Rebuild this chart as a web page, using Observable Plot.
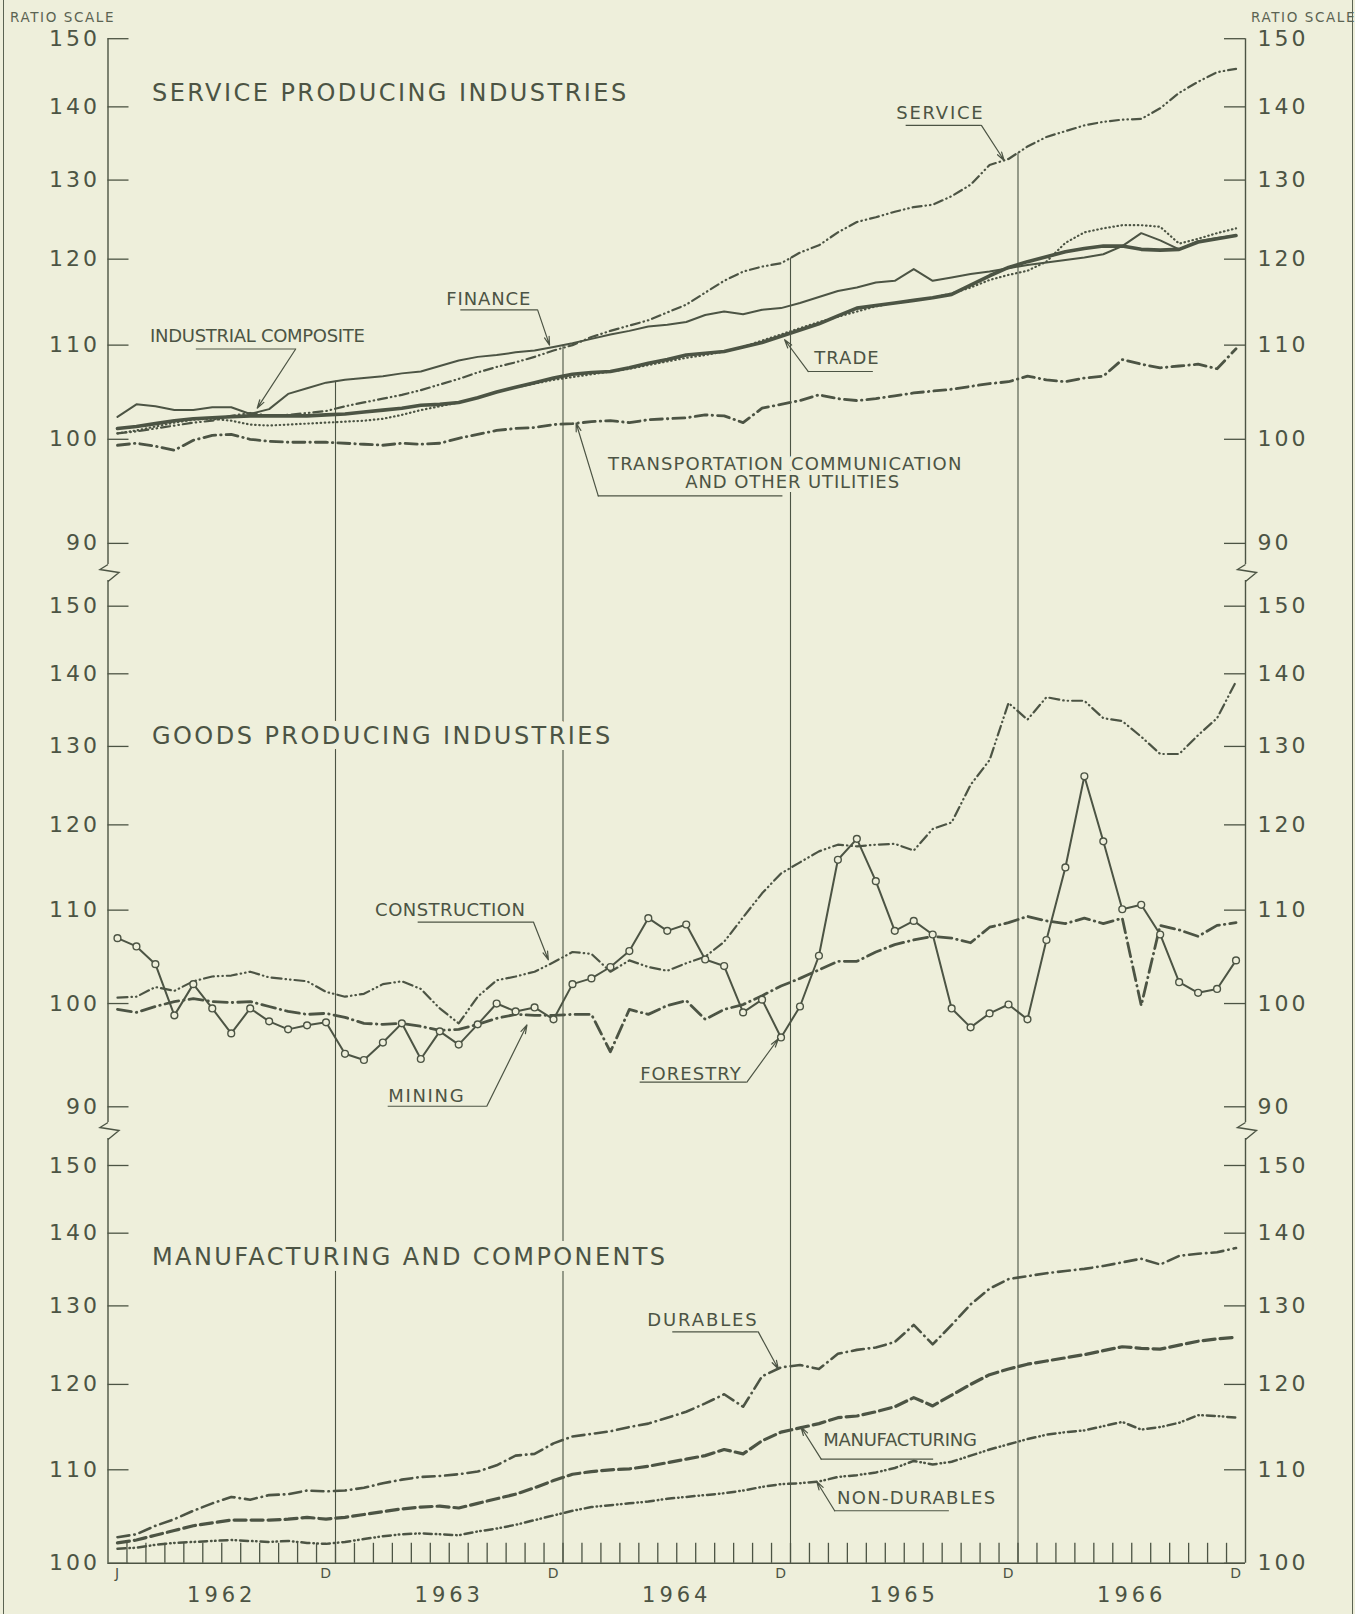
<!DOCTYPE html>
<html><head><meta charset="utf-8">
<script src="https://cdn.jsdelivr.net/npm/d3@7"></script>
<script src="https://cdn.jsdelivr.net/npm/@observablehq/plot@0.6"></script>
<style>
html,body{margin:0;padding:0;background:#eeefdb;overflow:hidden;}
#page{position:relative;width:1355px;height:1614px;background:#eeefdb;}
#page svg{position:absolute;left:0;overflow:visible;}
.edge{position:absolute;top:0;width:0;height:1614px;border-left:1.5px solid #5b6352;}
.ratio{position:absolute;top:9px;font:13.5px 'DejaVu Sans',sans-serif;letter-spacing:1.6px;color:#5b6352;white-space:nowrap;}
</style></head><body><div id="page"></div>
<script>
// ---------- data (monthly, Jan 1962 = 0 ... Dec 1966 = 59) ----------
const yearLabels = ["1962", "1963", "1964", "1965", "1966"];
const monthLetters = [{m: 0, t: "J"}, {m: 11, t: "D"}, {m: 23, t: "D"}, {m: 35, t: "D"}, {m: 47, t: "D"}, {m: 59, t: "D"}];
const yTicksTop = [90, 100, 110, 120, 130, 140, 150];
const yTicksBottom = [100, 110, 120, 130, 140, 150];

// Service producing industries
const service = [100.6,100.8,101.1,101.4,101.7,101.9,102.4,102.7,102.4,102.5,102.7,102.9,
  103.4,103.8,104.2,104.6,105.1,105.7,106.3,107.0,107.6,108.1,108.7,109.4,
  110.0,110.9,111.6,112.2,112.8,113.7,114.6,116.0,117.4,118.5,119.1,119.5,
  120.8,121.7,123.3,124.6,125.2,125.9,126.5,126.8,127.9,129.4,132.0,132.8,
  134.5,135.8,136.6,137.4,137.9,138.2,138.3,139.8,142.0,143.6,145.0,145.5];
const finance = [102.3,103.6,103.4,103.0,103.0,103.3,103.3,102.6,103.1,104.7,105.3,105.9,
  106.2,106.4,106.6,106.9,107.1,107.7,108.3,108.7,108.9,109.2,109.4,109.8,
  110.2,110.7,111.2,111.6,112.1,112.3,112.6,113.4,113.8,113.5,114.0,114.2,
  114.8,115.5,116.2,116.6,117.2,117.4,118.8,117.4,117.8,118.2,118.5,118.9,
  119.3,119.6,119.9,120.2,120.6,121.6,123.2,122.3,121.2,122.2,122.6,122.9];
const composite = [101.1,101.3,101.6,101.9,102.1,102.2,102.3,102.4,102.4,102.4,102.4,102.5,
  102.6,102.8,103.0,103.2,103.5,103.6,103.8,104.3,104.9,105.4,105.9,106.4,
  106.8,107.0,107.1,107.5,108.0,108.4,108.9,109.1,109.3,109.8,110.3,111.0,
  111.7,112.4,113.3,114.2,114.5,114.8,115.1,115.4,115.8,116.9,118.0,119.0,
  119.7,120.3,120.9,121.3,121.6,121.6,121.2,121.1,121.2,122.1,122.5,122.9];
const trade = [100.6,100.9,101.3,101.7,102.0,102.1,101.9,101.5,101.4,101.5,101.6,101.7,
  101.8,101.9,102.1,102.5,103.0,103.4,103.8,104.3,104.9,105.4,105.8,106.2,
  106.5,106.8,107.1,107.4,107.8,108.2,108.6,108.9,109.3,109.8,110.5,111.2,
  111.9,112.6,113.2,113.8,114.4,114.8,115.1,115.4,115.9,116.6,117.5,118.1,
  118.6,119.7,122.0,123.3,123.8,124.2,124.2,124.0,121.9,122.5,123.2,123.8];
const transport = [99.4,99.6,99.3,98.9,99.9,100.4,100.5,100.0,99.8,99.7,99.7,99.7,
  99.6,99.5,99.4,99.6,99.5,99.6,100.1,100.5,100.9,101.1,101.2,101.5,
  101.6,101.8,101.9,101.7,102.0,102.1,102.2,102.5,102.4,101.7,103.2,103.6,
  104.0,104.6,104.2,104.0,104.2,104.5,104.8,105.0,105.2,105.5,105.8,106.0,
  106.6,106.2,106.0,106.4,106.6,108.4,107.9,107.5,107.7,107.9,107.4,109.6];

// Goods producing industries
const construction = [100.6,100.7,101.7,101.3,102.3,102.8,102.9,103.3,102.7,102.5,102.3,101.2,
  100.7,101.0,102.0,102.3,101.5,99.5,98.0,100.7,102.4,102.8,103.3,104.3,
  105.4,105.2,103.3,104.5,103.8,103.4,104.2,104.9,106.5,109.2,111.9,114.2,
  115.5,116.8,117.6,117.4,117.6,117.7,116.9,119.5,120.3,125.0,128.2,135.9,
  133.6,136.7,136.2,136.2,133.8,133.4,131.3,129.0,129.0,131.5,133.8,138.9];
const mining = [99.4,99.1,99.7,100.2,100.5,100.2,100.1,100.2,99.7,99.2,98.9,99.0,
  98.6,98.0,97.9,98.0,97.7,97.3,97.4,97.9,98.5,98.9,98.8,98.8,
  98.9,98.9,95.2,99.4,98.9,99.8,100.3,98.4,99.4,99.9,100.8,101.8,
  102.6,103.5,104.4,104.4,105.4,106.2,106.7,107.1,106.9,106.4,108.1,108.6,
  109.3,108.8,108.5,109.1,108.5,109.1,99.8,108.3,107.8,107.1,108.3,108.6];
const forestry = [106.9,106.0,104.1,98.8,102.0,99.5,97.0,99.5,98.2,97.4,97.8,98.1,
  95.0,94.4,96.1,98.0,94.5,97.2,95.9,97.9,100.0,99.2,99.6,98.4,
  102.0,102.6,103.8,105.5,109.1,107.7,108.4,104.6,103.9,99.1,100.4,96.6,
  99.7,105.0,115.8,118.3,113.3,107.7,108.8,107.3,99.5,97.6,99.0,99.9,
  98.4,106.7,114.9,126.1,118.0,110.1,110.6,107.3,102.2,101.1,101.5,104.5];

// Manufacturing and components
const durables = [102.7,103.0,103.9,104.6,105.5,106.3,107.0,106.7,107.2,107.3,107.7,107.6,
  107.7,108.0,108.5,108.9,109.2,109.3,109.5,109.8,110.5,111.6,111.8,113.0,
  113.8,114.1,114.4,114.9,115.3,116.0,116.7,117.7,118.8,117.3,121.0,122.1,
  122.4,121.9,123.8,124.3,124.6,125.3,127.5,125.0,127.5,130.2,132.3,133.6,
  134.0,134.4,134.7,135.0,135.4,135.9,136.4,135.6,136.8,137.1,137.3,137.9];
const manufacturing = [102.1,102.4,102.9,103.4,103.9,104.2,104.5,104.5,104.5,104.6,104.8,104.6,
  104.8,105.1,105.4,105.7,105.9,106.0,105.8,106.3,106.8,107.3,108.0,108.8,
  109.5,109.8,110.0,110.1,110.4,110.8,111.2,111.6,112.3,111.8,113.3,114.3,
  114.8,115.3,116.0,116.2,116.7,117.3,118.4,117.4,118.7,120.0,121.2,121.9,
  122.5,122.9,123.3,123.7,124.2,124.7,124.5,124.4,124.9,125.4,125.7,125.9];
const nondurables = [101.5,101.6,101.9,102.1,102.2,102.3,102.4,102.3,102.2,102.3,102.1,102.0,
  102.2,102.5,102.8,103.0,103.1,103.0,102.9,103.3,103.6,104.0,104.5,105.0,
  105.5,105.9,106.1,106.3,106.5,106.8,107.0,107.2,107.4,107.7,108.1,108.4,
  108.5,108.7,109.2,109.4,109.7,110.2,111.0,110.6,110.9,111.6,112.3,112.9,
  113.5,114.0,114.3,114.5,115.0,115.5,114.6,114.9,115.4,116.3,116.2,116.0];

// ---------- annotations (placed in month / index units) ----------
const topTitle = [{m: 1.82, v: 142.0, t: "SERVICE PRODUCING INDUSTRIES"}];
const midTitle = [{m: 1.82, v: 131.4, t: "GOODS PRODUCING INDUSTRIES"}];
const botTitle = [{m: 1.82, v: 136.6, t: "MANUFACTURING AND COMPONENTS"}];

const topNotes = [
  {t: "SERVICE", m: 41.08, v: 139.1, u: [41.6, 45.57, 137.4], a: [45.57, 137.4, 46.77, 132.6]},
  {t: "FINANCE", m: 17.34, v: 115.2, u: [18.11, 22.16, 114.0], a: [22.16, 114.0, 22.79, 110.0]},
  {t: "INDUSTRIAL COMPOSITE", m: 1.72, v: 111.0, u: [4.16, 9.40, 109.57], a: [9.40, 109.57, 7.37, 103.2]},
  {t: "TRADE", m: 36.75, v: 108.6, u: [36.44, 39.87, 107.1], a: [36.44, 107.1, 35.19, 110.6]},
  {t: "TRANSPORTATION COMMUNICATION", m: 25.88, v: 97.55, u: [25.36, 35.1, 94.43], a: [25.36, 94.43, 24.19, 101.66]},
  {t: "AND OTHER UTILITIES", m: 29.95, v: 95.73}
];
const midNotes = [
  {t: "CONSTRUCTION", m: 13.59, v: 109.94, u: [15.86, 21.94, 108.67], a: [21.94, 108.67, 22.73, 104.55]},
  {t: "MINING", m: 14.28, v: 90.95, u: [14.28, 19.48, 90.05], a: [19.48, 90.05, 21.6, 97.84]},
  {t: "FORESTRY", m: 27.57, v: 93.0, u: [27.57, 33.2, 92.29], a: [33.2, 92.29, 34.86, 96.47]}
];
const botNotes = [
  {t: "DURABLES", m: 27.94, v: 128.1, u: [29.29, 33.8, 126.6], a: [33.8, 126.6, 34.86, 121.9]},
  {t: "MANUFACTURING", m: 37.23, v: 113.4, u: [37.12, 43.05, 111.2], a: [37.12, 111.2, 36.05, 114.9]},
  {t: "NON-DURABLES", m: 37.95, v: 106.9, u: [37.83, 43.88, 105.5], a: [37.83, 105.5, 36.88, 108.7]}
];

// ---------- styling ----------
const ink = "#4c5444";
const paper = "#eeefdb";
const font = "'DejaVu Sans', 'Liberation Sans', sans-serif";
const W = 1355, ML = 107.5, MR = 110;
const frameW = W - ML - MR;
const xDomain = [-0.5, 59.5];
const decBoundaries = [11.5, 23.5, 35.5, 47.5];
const monthBoundaries = d3.range(0.5, 59, 1);
const topDomain = [87.21, 150];
const midDomain = [87.67, 154.93];
const botDomain = [100, 155.13];
const letterSpacing = new Map([
  ["SERVICE PRODUCING INDUSTRIES", 2.45], ["GOODS PRODUCING INDUSTRIES", 2.45], ["MANUFACTURING AND COMPONENTS", 2.4],
  ["SERVICE", 1.75], ["FINANCE", 0.9], ["INDUSTRIAL COMPOSITE", -0.3], ["TRADE", 1.05],
  ["TRANSPORTATION COMMUNICATION", 1.1], ["AND OTHER UTILITIES", 0.9],
  ["CONSTRUCTION", 0.45], ["MINING", 1.7], ["FORESTRY", 1.05],
  ["DURABLES", 1.9], ["MANUFACTURING", -0.3], ["NON-DURABLES", 1.3],
  ["1962", 4], ["1963", 4], ["1964", 4], ["1965", 4], ["1966", 4]
]);

const rows = (values) => values.map((v, m) => ({m, v}));
const zigzag = {draw(ctx) { ctx.moveTo(0, -10); ctx.lineTo(-8, -5); ctx.lineTo(11, -2); ctx.lineTo(0, 7); }};

function series(values, width, dash) {
  return Plot.line(rows(values), {x: "m", y: "v", stroke: ink, strokeWidth: width,
    strokeDasharray: dash, strokeLinecap: "round", strokeLinejoin: "round"});
}
function yAxes(ticks) {
  return [
    Plot.tickY(ticks, {y: d => d, insetRight: frameW - 21, stroke: ink, strokeWidth: 1.3}),
    Plot.tickY(ticks, {y: d => d, insetLeft: frameW - 21, stroke: ink, strokeWidth: 1.3}),
    Plot.text(ticks, {y: d => d, text: d => String(d), frameAnchor: "left", textAnchor: "end", dx: -8, fontSize: 22, fill: ink}),
    Plot.text(ticks, {y: d => d, text: d => String(d), frameAnchor: "right", textAnchor: "start", dx: 12, fontSize: 22, fill: ink})
  ];
}
function title(data) {
  return Plot.text(data, {x: "m", y: "v", text: "t", textAnchor: "start", fontSize: 24, fill: ink,
    stroke: paper, strokeWidth: 12, paintOrder: "stroke"});
}
function noteTexts(notes) {
  return Plot.text(notes, {x: "m", y: "v", text: "t", textAnchor: "start", fontSize: 18, fill: ink,
    stroke: paper, strokeWidth: 8, paintOrder: "stroke"});
}
function leaders(notes) {
  const withU = notes.filter(d => d.u);
  return [
    Plot.ruleY(withU, {y: d => d.u[2], x1: d => d.u[0], x2: d => d.u[1], stroke: ink, strokeWidth: 1.2}),
    Plot.arrow(withU, {x1: d => d.a[0], y1: d => d.a[1], x2: d => d.a[2], y2: d => d.a[3],
      stroke: ink, strokeWidth: 1.2, headLength: 11, headAngle: 32})
  ];
}
const base = {width: W, marginLeft: ML, marginRight: MR,
  x: {domain: xDomain, axis: null},
  style: {background: "transparent", fontFamily: font, color: ink, overflow: "visible"}};

// ---------- top panel ----------
const topStart = decBoundaries.map(b => {
  const i = Math.floor(b);
  return {b, v: d3.max([service, finance, composite, trade, transport], s => (s[i] + s[i + 1]) / 2)};
});
const topPlot = Plot.plot({...base, height: 574, marginTop: 38.2, marginBottom: 0,
  y: {type: "log", domain: topDomain, axis: null},
  marks: [
    Plot.ruleX(topStart, {x: "b", y1: "v", y2: () => topDomain[0], stroke: ink, strokeWidth: 1.1}),
    Plot.ruleX(xDomain, {x: d => d, insetBottom: 10, stroke: ink, strokeWidth: 1.4}),
    Plot.dot(xDomain, {x: d => d, y: () => topDomain[0], symbol: zigzag, r: 5, stroke: ink, fill: "none", strokeWidth: 1.4}),
    ...yAxes(yTicksTop),
    title(topTitle),
    noteTexts(topNotes),
    series(transport, 2.8, "12,5,0.5,5"),
    series(trade, 2.2, "0.5,3.6"),
    series(service, 2.2, "9,4,0.5,4,0.5,4"),
    series(finance, 2.0, null),
    series(composite, 3.6, null),
    ...leaders(topNotes)
  ]});

// ---------- middle panel ----------
const midPlot = Plot.plot({...base, height: 558, marginTop: 0, marginBottom: 0,
  y: {type: "log", domain: midDomain, axis: null},
  marks: [
    Plot.ruleX(decBoundaries, {x: d => d, stroke: ink, strokeWidth: 1.1}),
    Plot.ruleX(xDomain, {x: d => d, insetTop: 6, insetBottom: 10, stroke: ink, strokeWidth: 1.4}),
    Plot.dot(xDomain, {x: d => d, y: () => midDomain[0], symbol: zigzag, r: 5, stroke: ink, fill: "none", strokeWidth: 1.4}),
    ...yAxes(yTicksTop),
    title(midTitle),
    noteTexts(midNotes),
    series(mining, 2.8, "14,5,0.5,5"),
    series(construction, 2.2, "10,4,0.5,4,0.5,4"),
    series(forestry, 2.0, null),
    Plot.dot(rows(forestry), {x: "m", y: "v", r: 3.4, fill: paper, stroke: ink, strokeWidth: 1.4}),
    ...leaders(midNotes)
  ]});

// ---------- bottom panel ----------
const botFrameH = 430.8;
const botPlot = Plot.plot({...base, height: 482, marginTop: 0, marginBottom: 51.2,
  y: {type: "log", domain: botDomain, axis: null},
  marks: [
    Plot.ruleX(decBoundaries, {x: d => d, stroke: ink, strokeWidth: 1.1}),
    Plot.ruleX(xDomain, {x: d => d, insetTop: 6, stroke: ink, strokeWidth: 1.4}),
    Plot.ruleY([botDomain[0]], {y: d => d, stroke: ink, strokeWidth: 1.5}),
    Plot.tickX(monthBoundaries, {x: d => d, insetTop: botFrameH - 20, stroke: ink, strokeWidth: 1.3}),
    ...yAxes(yTicksBottom),
    Plot.text(monthLetters, {x: "m", text: "t", frameAnchor: "bottom", dy: 15, fontSize: 14, fill: ink}),
    Plot.text(yearLabels.map((t, i) => ({t, m: 12 * i + 5.5})), {x: "m", text: "t", frameAnchor: "bottom", dy: 39, dx: 0, fontSize: 21, fill: ink}),
    title(botTitle),
    noteTexts(botNotes),
    series(nondurables, 2.5, "8,4,0.5,3.5,0.5,4"),
    series(manufacturing, 3.2, "12,5"),
    series(durables, 2.6, "12,5,0.5,5"),
    ...leaders(botNotes)
  ]});

const page = document.getElementById("page");
[[topPlot, 0], [midPlot, 574], [botPlot, 1132]].forEach(([svg, y]) => {
  svg.style.top = y + "px";
  for (const t of svg.querySelectorAll("text")) {
    const s = t.textContent;
    const ls = letterSpacing.has(s) ? letterSpacing.get(s) : /^\d+$/.test(s) ? 3 : 1;
    t.style.letterSpacing = ls + "px";
  }
  page.appendChild(svg);
});
page.insertAdjacentHTML("beforeend",
  '<div class="edge" style="left:3px"></div><div class="edge" style="left:1352px"></div>' +
  '<div class="ratio" style="left:10px">RATIO SCALE</div><div class="ratio" style="left:1251px">RATIO SCALE</div>');
</script></body></html>
